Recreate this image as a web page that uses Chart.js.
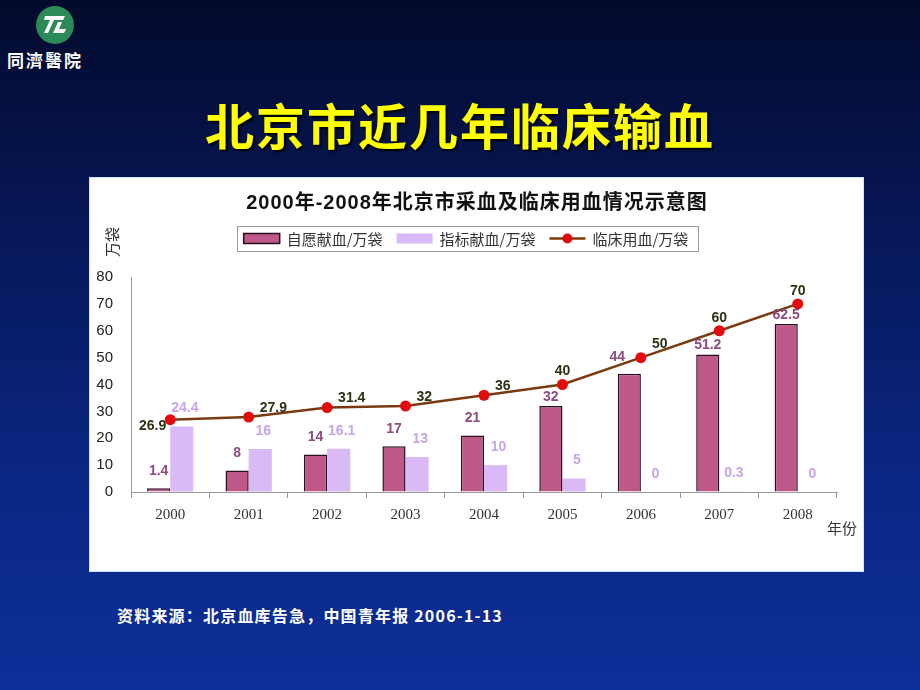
<!DOCTYPE html>
<html>
<head>
<meta charset="utf-8">
<script src="https://cdn.jsdelivr.net/npm/chart.js@4.4.1/dist/chart.umd.min.js"></script>
<style>
  html, body { margin: 0; padding: 0; }
  body {
    width: 920px; height: 690px; position: relative; overflow: hidden;
    background: linear-gradient(180deg, #030a2c 0%, #07185a 35%, #0a2784 70%, #0d2f98 100%);
    font-family: "Noto Sans CJK SC", sans-serif;
  }
  .logo { position: absolute; left: 36px; top: 6px; width: 38px; height: 38px; border-radius: 50%; background: #2b8a55; }
  .logo-text { position: absolute; left: 7px; top: 47px; color: #fff; font-size: 17px; font-weight: bold; letter-spacing: 2px; }
  .slide-title {
    position: absolute; left: 0; width: 920px; top: 88px; text-align: center;
    color: #ffff00; font-size: 49px; font-weight: bold; letter-spacing: 2px;
    text-shadow: 2px 2px 2px #000;
  }
  .panel { position: absolute; left: 90px; top: 178px; width: 773px; height: 393px; background: #fff; box-shadow: 0 0 0 1px #cfe3f7; }
  .source { position: absolute; left: 117px; top: 603px; color: #fff; font-size: 16px; font-weight: bold; letter-spacing: 1.2px; }
</style>
</head>
<body>
<div class="logo">
  <svg width="38" height="38" viewBox="0 0 38 38">
    <polygon points="9,10 29,10 27,14 18,14 12,27 8,27 14,14 8,14" fill="#fff"/>
    <polygon points="17,27 22,16 26,16 23,23 30,23 28,27" fill="#fff"/>
  </svg>
</div>
<div class="logo-text">同濟醫院</div>
<div class="slide-title">北京市近几年临床输血</div>
<div class="panel"><canvas id="c" width="773" height="393"></canvas></div>
<div class="source">资料来源：北京血库告急，中国青年报 2006-1-13</div>

<script>
// chart data
const years = ['2000', '2001', '2002', '2003', '2004', '2005', '2006', '2007', '2008'];
const voluntary = [1.4, 8, 14, 17, 21, 32, 44, 51.2, 62.5];
const assigned = [24.4, 16, 16.1, 13, 10, 5, 0, 0.3, 0];
const clinical = [26.9, 27.9, 31.4, 32, 36, 40, 50, 60, 70];
const seriesNames = ['自愿献血/万袋', '指标献血/万袋', '临床用血/万袋'];
const chartTitle = '2000年-2008年北京市采血及临床用血情况示意图';
const yUnit = '万袋';
const xUnit = '年份';

const DARK = '#be5889';
const LIGHT = '#d9baf7';
const LINE = '#7a3a10';
const DOT = '#e30b0b';

// title, legend, axis units and value labels
const decorPlugin = {
  id: 'decor',
  afterDatasetsDraw(chart) {
    const ctx = chart.ctx;
    ctx.save();

    // value labels (labels that would hit the line are pulled closer to the bar)
    ctx.font = 'bold 14px "Liberation Sans", Arial, sans-serif';
    ctx.textBaseline = 'middle';
    const linePts = chart.getDatasetMeta(2).data;
    chart.getDatasetMeta(0).data.forEach((bar, i) => {
      ctx.fillStyle = '#8c4a7e';
      ctx.textAlign = 'center';
      let y = bar.y - 17, x = bar.x;
      if (linePts[i].y > y - 20) {
        if (i === 6) x -= 12; else y = bar.y - 9;
      }
      ctx.fillText(String(voluntary[i]), x, y);
    });
    chart.getDatasetMeta(1).data.forEach((bar, i) => {
      ctx.fillStyle = '#c7a5ea';
      ctx.textAlign = 'center';
      ctx.fillText(String(assigned[i]), bar.x + 3, bar.y - 18);
    });
    linePts.forEach((pt, i) => {
      ctx.fillStyle = '#2c3214';
      if (i === 0) {
        ctx.textAlign = 'right';
        ctx.fillText(String(clinical[i]), pt.x - 4, pt.y + 6);
      } else if (i <= 4 || i === 6) {
        ctx.textAlign = 'left';
        ctx.fillText(String(clinical[i]), pt.x + 11, pt.y - (i === 6 ? 13 : 9));
      } else {
        ctx.textAlign = 'center';
        ctx.fillText(String(clinical[i]), pt.x, pt.y - 13);
      }
    });

    // title
    ctx.fillStyle = '#111';
    ctx.textAlign = 'center';
    ctx.font = 'bold 20px "Liberation Sans", "Noto Sans CJK SC", sans-serif';
    ctx.letterSpacing = '1px';
    ctx.fillText(chartTitle, 387, 25);
    ctx.letterSpacing = '0px';

    // legend
    ctx.font = '15px "Noto Sans CJK SC", serif';
    const sym = 36, gap = 7, itemGap = 14;
    const widths = seriesNames.map(n => sym + gap + ctx.measureText(n).width);
    const total = widths.reduce((a, b) => a + b, 0) + itemGap * 2 + 16;
    let lx = 377 - total / 2;
    const ly = 48, lh = 25, cy = ly + lh / 2;
    ctx.strokeStyle = '#999';
    ctx.lineWidth = 1;
    ctx.strokeRect(Math.round(lx) + 0.5, ly + 0.5, Math.round(total), lh);
    let x = lx + 7;
    seriesNames.forEach((name, i) => {
      if (i === 0) {
        ctx.fillStyle = DARK;
        ctx.fillRect(x, cy - 5, sym, 10);
        ctx.strokeStyle = '#2a0f1f';
        ctx.lineWidth = 1.5;
        ctx.strokeRect(x, cy - 5, sym, 10);
      } else if (i === 1) {
        ctx.fillStyle = LIGHT;
        ctx.fillRect(x, cy - 5, sym, 10);
      } else {
        ctx.strokeStyle = LINE;
        ctx.lineWidth = 2.5;
        ctx.beginPath();
        ctx.moveTo(x, cy);
        ctx.lineTo(x + sym, cy);
        ctx.stroke();
        ctx.fillStyle = DOT;
        ctx.beginPath();
        ctx.arc(x + sym / 2, cy, 5, 0, Math.PI * 2);
        ctx.fill();
      }
      ctx.fillStyle = '#333';
      ctx.textAlign = 'left';
      ctx.fillText(name, x + sym + gap, cy + 1);
      x += widths[i] + itemGap;
    });

    // axis units
    ctx.font = '15px "Liberation Serif", "Noto Sans CJK SC", serif';
    ctx.fillStyle = '#333';
    ctx.textAlign = 'left';
    ctx.fillText(xUnit, 737, 352);
    ctx.translate(24, 64);
    ctx.rotate(-Math.PI / 2);
    ctx.textAlign = 'center';
    ctx.fillText(yUnit, 0, 0);

    ctx.restore();
  }
};

new Chart(document.getElementById('c'), {
  type: 'bar',
  data: {
    labels: years,
    datasets: [
      {
        label: seriesNames[0], data: voluntary, backgroundColor: DARK,
        borderColor: '#2a0f1f', borderWidth: 1.5, order: 1,
        categoryPercentage: 0.59, barPercentage: 1
      },
      {
        label: seriesNames[1], data: assigned, backgroundColor: LIGHT,
        borderWidth: 0, order: 1,
        categoryPercentage: 0.59, barPercentage: 1
      },
      {
        type: 'line', label: seriesNames[2], data: clinical,
        borderColor: LINE, borderWidth: 2.5, tension: 0,
        pointRadius: 5.5, pointBackgroundColor: DOT, pointBorderColor: DOT, pointBorderWidth: 0,
        order: 0
      }
    ]
  },
  options: {
    responsive: false,
    animation: false,
    layout: { padding: { top: 99, right: 26, left: 0, bottom: 0 } },
    plugins: { legend: { display: false }, title: { display: false }, tooltip: { enabled: false } },
    scales: {
      x: {
        grid: { offset: true, drawOnChartArea: false, drawTicks: true, tickLength: 6, color: '#999' },
        border: { color: '#999', width: 1 },
        ticks: { color: '#333', font: { family: '"Liberation Serif", serif', size: 15 }, padding: 8 },
        afterFit(scale) { scale.height = 79; }
      },
      y: {
        min: 0, max: 80,
        grid: { drawOnChartArea: false, drawTicks: false, color: '#999' },
        border: { color: '#999', width: 1 },
        ticks: { stepSize: 10, color: '#222', font: { family: '"Liberation Sans", Arial, sans-serif', size: 15 }, padding: 18 },
        afterFit(scale) { scale.width = 41; }
      }
    }
  },
  plugins: [decorPlugin]
});
</script>
</body>
</html>
